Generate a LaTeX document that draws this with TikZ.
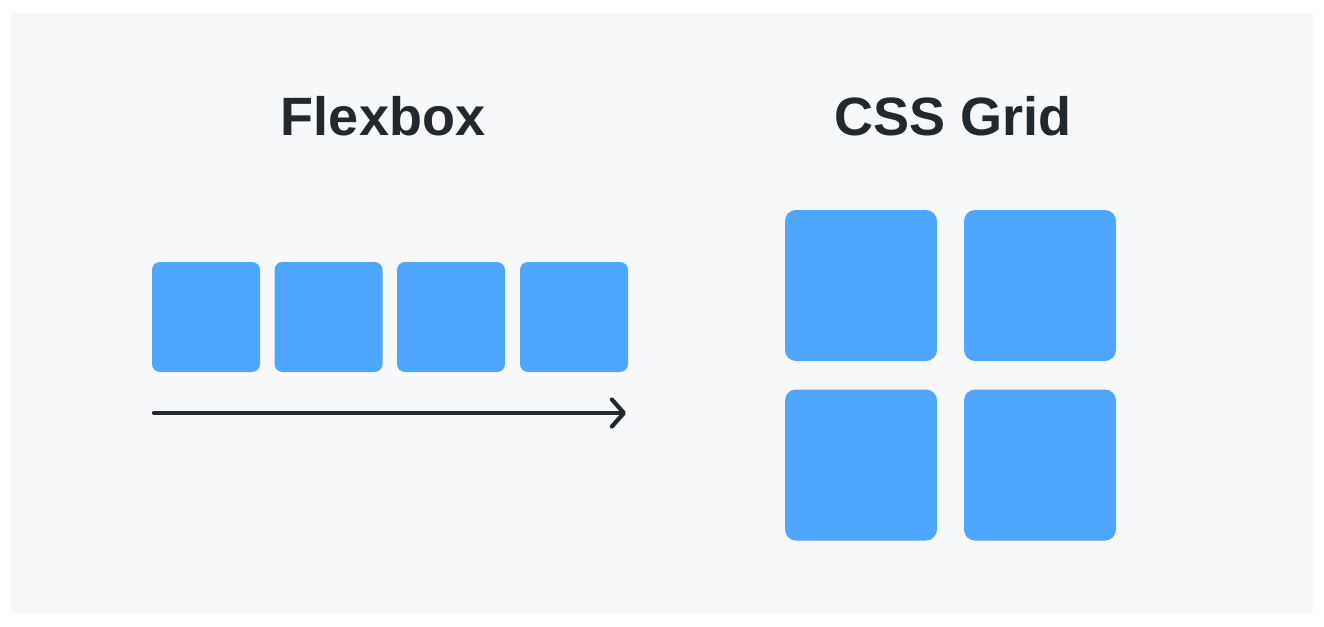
\documentclass[tikz,border=0pt]{standalone}
\usepackage{fontspec}
\setmainfont{Liberation Sans}
\usetikzlibrary{arrows.meta}

\definecolor{panelgray}{HTML}{F7F8FA}
\definecolor{itemblue}{HTML}{4FA6FE}
\definecolor{inkdark}{HTML}{23272E}

\tikzset{
  title/.style={anchor=base,text=inkdark,font=\fontsize{54}{60}\selectfont\bfseries,inner sep=0pt},
  flexitem/.style={fill=itemblue,draw=none,rounded corners=8pt,minimum width=108pt,minimum height=110pt,inner sep=0pt},
  griditem/.style={fill=itemblue,draw=none,rounded corners=11pt,minimum width=152pt,minimum height=151pt,inner sep=0pt},
  mainaxis/.style={draw=inkdark,line width=4.2pt,line cap=round,-{Straight Barb[length=12pt,width=27pt,line cap=round,line join=round]}}
}

\begin{document}
\begin{tikzpicture}[x=1pt,y=-1pt]
  \useasboundingbox (0,0) rectangle (1324,626);
  \fill[white] (0,0) rectangle (1324,626);
  \fill[panelgray] (11,13) rectangle (1313,613);

  % titles
  \node[title] (flextitle) at (383,135) {Flexbox};
  \node[title] (gridtitle) at (953,135) {CSS Grid};

  % flex row
  \node[flexitem] (f1) at (206,317) {};
  \node[flexitem] (f2) at (328.5,317) {};
  \node[flexitem] (f3) at (451,317) {};
  \node[flexitem] (f4) at (574,317) {};

  \coordinate (axisstart) at (154,413);
  \coordinate (axisend) at (626,413);
  \draw[mainaxis] (axisstart) -- (axisend);

  % grid 2x2
  \node[griditem] (g11) at (861,285.5) {};
  \node[griditem] (g12) at (1040,285.5) {};
  \node[griditem] (g21) at (861,465) {};
  \node[griditem] (g22) at (1040,465) {};
\end{tikzpicture}
\end{document}
